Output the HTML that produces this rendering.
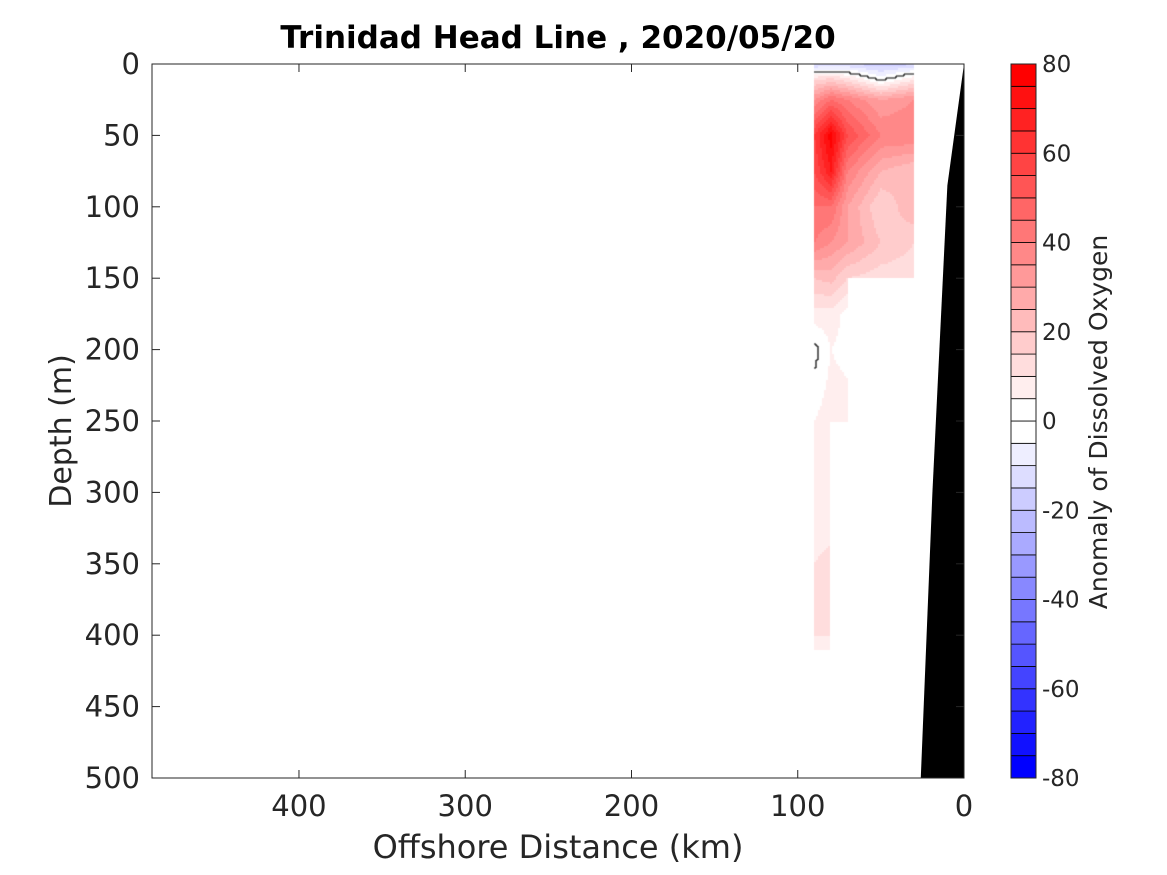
<!DOCTYPE html>
<html><head><meta charset="utf-8">
<style>
body{margin:0;background:#fff;width:1167px;height:875px;overflow:hidden;font-family:"DejaVu Sans","Liberation Sans",sans-serif}
#wrap{position:relative;width:1167px;height:875px}
canvas,svg{position:absolute;left:0;top:0}
text{font-family:"DejaVu Sans","Liberation Sans",sans-serif}
</style></head>
<body>
<div id="wrap">
<canvas id="cv" width="1167" height="875"></canvas>
<svg id="sv" width="1167" height="875"></svg>
</div>
<script>
// ---- data ----
const stationsKm = [90, 80, 70, 50, 30];
const depthsM = [0, 10, 25, 50, 75, 100, 125, 150, 175, 200, 250, 300, 350, 400, 410];
const N = NaN;
const anomaly = [
  [-16, -16, -15, -18, -16],
  [12, 15, 10, -3, 8],
  [35, 45, 40, 30, 35],
  [60, 78, 55, 40, 40],
  [55, 70, 40, 25, 20],
  [45, 45, 30, 15, 25],
  [40, 35, 30, 20, 15],
  [20, 22, 15, 12, 12],
  [8, 8, 3, N, N],
  [-2, 5, 3, N, N],
  [5, 8, 8, N, N],
  [5, 5, N, N, N],
  [10, 12, N, N, N],
  [10, 10, N, N, N],
  [6, 6, N, N, N]
];
const bathyKm = [0, 10, 19, 26];
const bathyDepth = [0, 85, 300, 500];
const xTicks = [400, 300, 200, 100, 0];
const yTicks = [0, 50, 100, 150, 200, 250, 300, 350, 400, 450, 500];
const cbTicks = [-80, -60, -40, -20, 0, 20, 40, 60, 80];

// ---- axes ----
const L = 152, R = 964, T = 64, B = 778;
const xMax = 488.4;
const X = km => R - km / xMax * (R - L);
const Y = d => T + d / 500 * (B - T);
const cbL = 1011, cbR = 1036;
const CY = v => T + (80 - v) / 160 * (B - T);
function color(v) {
  let b = Math.floor(v / 5) * 5;
  if (b >= 0) { const t = Math.min(b / 75, 1); const c = Math.round(255 * (1 - t)); return `rgb(255,${c},${c})`; }
  const u = b + 5; const t = Math.min(-u / 75, 1); const c = Math.round(255 * (1 - t)); return `rgb(${c},${c},255)`;
}

// ---- fill via interpolation ----
const cv = document.getElementById('cv'), ctx = cv.getContext('2d');
function interp(km, d) {
  let i = 0; while (i < stationsKm.length - 2 && km < stationsKm[i + 1]) i++;
  let j = 0; while (j < depthsM.length - 2 && d > depthsM[j + 1]) j++;
  const a = anomaly[j][i], b = anomaly[j][i + 1], c = anomaly[j + 1][i], e = anomaly[j + 1][i + 1];
  if ([a, b, c, e].some(isNaN)) return NaN;
  const tx = (stationsKm[i] - km) / (stationsKm[i] - stationsKm[i + 1]);
  const ty = (d - depthsM[j]) / (depthsM[j + 1] - depthsM[j]);
  return (a * (1 - tx) + b * tx) * (1 - ty) + (c * (1 - tx) + e * tx) * ty;
}
const step = 2;
const grid = [];
const x0 = Math.round(X(stationsKm[0])), x1 = Math.round(X(stationsKm[stationsKm.length - 1]));
const y1 = Math.round(Y(depthsM[depthsM.length - 1]));
for (let py = T; py < y1; py += step) {
  const row = [];
  for (let px = x0; px < x1; px += step) {
    const km = (R - (px + step / 2)) / (R - L) * xMax;
    const d = (py + step / 2 - T) / (B - T) * 500;
    const v = interp(km, d);
    row.push(v);
    if (!isNaN(v)) { ctx.fillStyle = color(v); ctx.fillRect(px, py, step, step); }
  }
  grid.push(row);
}
ctx.strokeStyle = '#000'; ctx.lineWidth = 1.2; ctx.beginPath();
for (let r = 0; r < grid.length; r++) for (let c = 0; c < grid[r].length; c++) {
  const v = grid[r][c]; if (isNaN(v)) continue;
  const px = x0 + c * step, py = T + r * step;
  if (c + 1 < grid[r].length && !isNaN(grid[r][c + 1]) && (v < 0) !== (grid[r][c + 1] < 0)) { ctx.moveTo(px + step, py); ctx.lineTo(px + step, py + step); }
  if (r + 1 < grid.length && !isNaN(grid[r + 1][c]) && (v < 0) !== (grid[r + 1][c] < 0)) { ctx.moveTo(px, py + step); ctx.lineTo(px + step, py + step); }
}
ctx.stroke();

// ---- svg ----
const NS = 'http://www.w3.org/2000/svg', sv = document.getElementById('sv');
function el(tag, attrs, text) { const e = document.createElementNS(NS, tag); for (const k in attrs) e.setAttribute(k, attrs[k]); if (text !== undefined) e.textContent = text; sv.appendChild(e); return e; }

let pts = bathyKm.map((k, i) => `${X(k)},${Y(bathyDepth[i])}`);
pts.push(`${R},${B}`);
let bp = el('polygon', { points: pts.join(' '), fill: '#000' });



let frame = el('rect', { x: L, y: T, width: R - L, height: B - T, fill: 'none', stroke: '#262626', 'stroke-width': 1 });



xTicks.forEach(t => {
  const x = X(t);
  el('line', { x1: x, y1: B, x2: x, y2: B - 8, stroke: '#262626' });
  el('line', { x1: x, y1: T, x2: x, y2: T + 8, stroke: '#262626' });
  const tx = el('text', { x: x, y: 816, 'font-size': 29, fill: '#262626', 'text-anchor': 'middle' }, t);
  
  
});
yTicks.forEach(t => {
  const y = Y(t);
  el('line', { x1: L, y1: y, x2: L + 8, y2: y, stroke: '#262626' });
  el('line', { x1: R, y1: y, x2: R - 8, y2: y, stroke: '#262626' });
  const ty = el('text', { x: 140, y: y + 10, 'font-size': 29, fill: '#262626', 'text-anchor': 'end' }, t);
  
  
});

for (let v = -80; v < 80; v += 5) {
  const r = el('rect', { x: cbL, y: CY(v + 5), width: cbR - cbL, height: CY(v) - CY(v + 5), fill: color(v + 0.1), stroke: '#000', 'stroke-width': 0.8 });
  
  
}
el('rect', { x: cbL, y: T, width: cbR - cbL, height: B - T, fill: 'none', stroke: '#262626' });
cbTicks.forEach(t => {
  const ct = el('text', { x: 1042, y: CY(t) + 8, 'font-size': 23, fill: '#262626' }, t);
  
  
});

let title = el('text', { x: 558, y: 48, 'font-size': 31, 'font-weight': 'bold', fill: '#000', 'text-anchor': 'middle' }, 'Trinidad Head Line , 2020/05/20');


let xl = el('text', { x: 558, y: 858, 'font-size': 32, fill: '#262626', 'text-anchor': 'middle' }, 'Offshore Distance (km)');


let yl = el('text', { x: 0, y: 0, 'font-size': 30, fill: '#262626', 'text-anchor': 'middle', transform: 'translate(71,431) rotate(-90)' }, 'Depth (m)');


let cl = el('text', { x: 0, y: 0, 'font-size': 25, fill: '#262626', 'text-anchor': 'middle', transform: 'translate(1107,422) rotate(-90)' }, 'Anomaly of Dissolved Oxygen');


</script>
</body></html>
